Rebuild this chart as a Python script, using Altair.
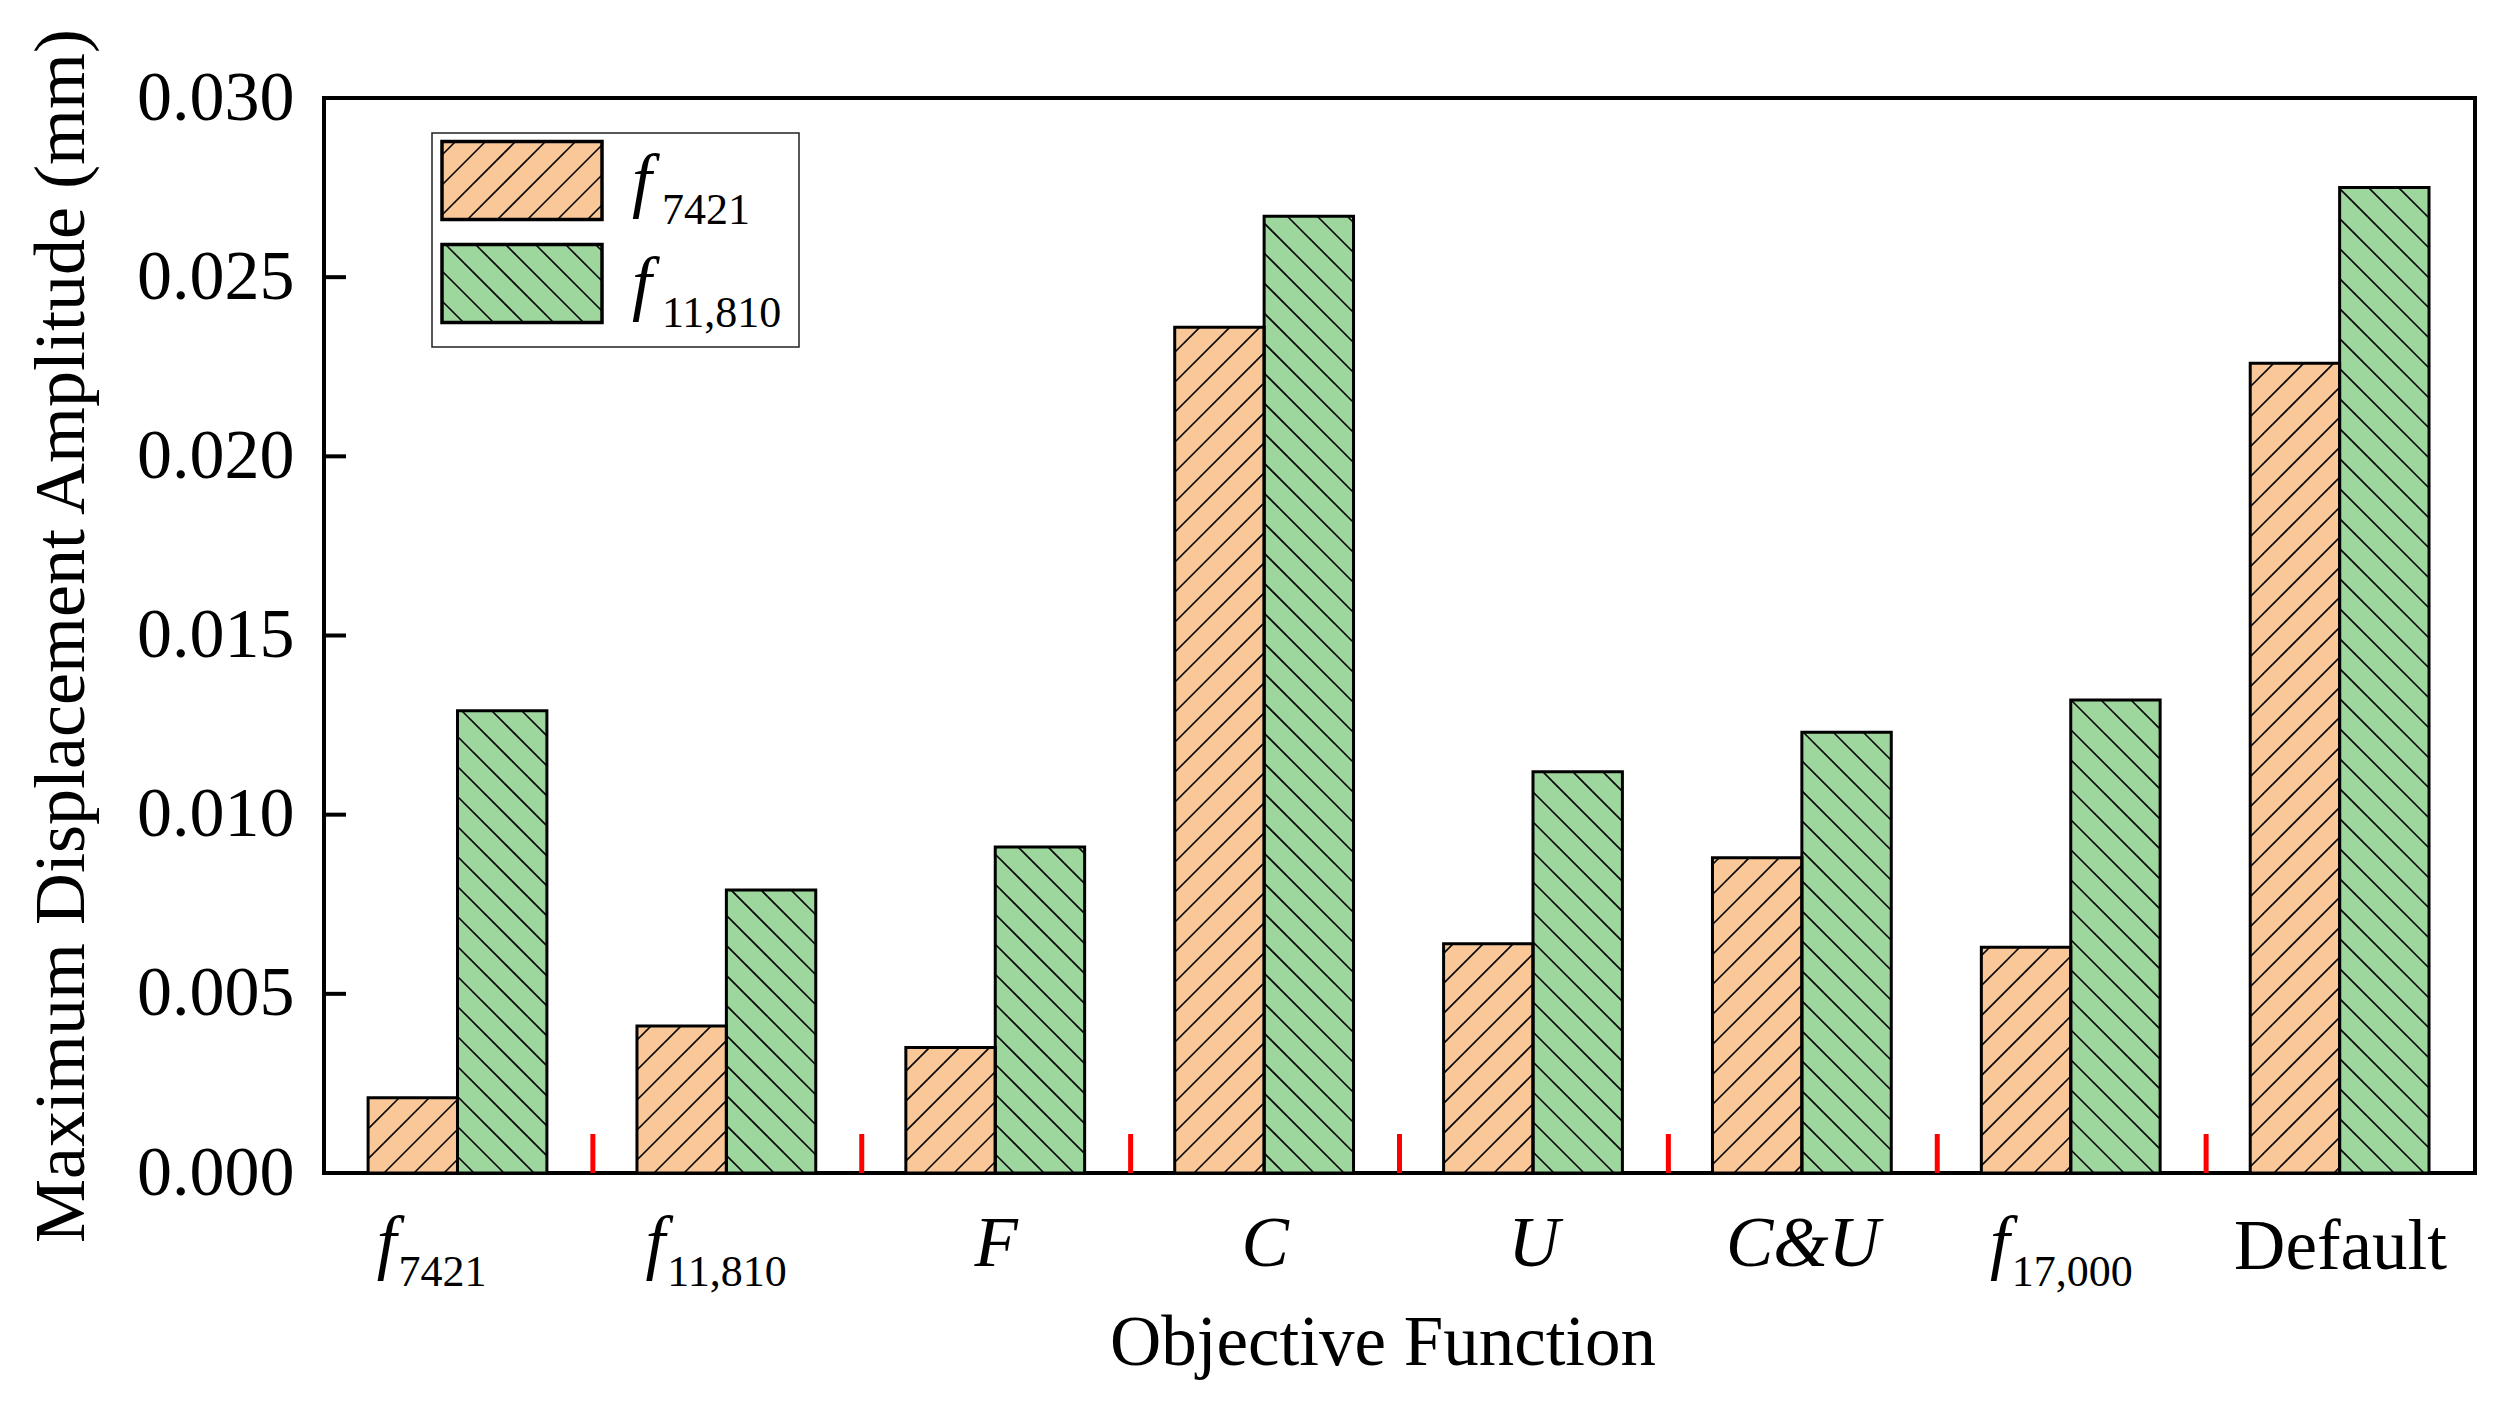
import math
import altair as alt
import pandas as pd

# ---------------- data ----------------
categories = ["f7421", "f11,810", "F", "C", "U", "C&U", "f17,000", "Default"]
label_main = ["f", "f", "F", "C", "U", "C&U", "f", "Default"]
label_sub = ["7421", "11,810", "", "", "", "", "17,000", ""]

series = ["f7421", "f11,810"]
series_main = ["f", "f"]
series_sub = ["7421", "11,810"]

vals_7421 = [0.0021, 0.0041, 0.0035, 0.0236, 0.0064, 0.0088, 0.0063, 0.0226]
vals_11810 = [0.0129, 0.0079, 0.0091, 0.0267, 0.0112, 0.0123, 0.0132, 0.0275]

y_ticks = [0.000, 0.005, 0.010, 0.015, 0.020, 0.025, 0.030]
colors = ["#FAC898", "#9ED79E"]

# ---------------- layout / style ----------------
W, H = 2151, 1075
NCAT = len(categories)
YMAX = y_ticks[-1]
PX = W / NCAT          # pixels per category unit
PY = H / YMAX          # pixels per value unit
GAP = 0.164            # left gap inside a category (fraction)
BW = 0.3325            # bar width (fraction of category)
SP = 30                # hatch spacing in px
FONT = "Liberation Serif"


def dx(px):            # pixel (from plot left) -> x data
    return px / PX


def dy(py):            # pixel (from plot top) -> y data
    return (H - py) / PY


xs = alt.Scale(domain=[0, NCAT], nice=False, zero=False)
ys = alt.Scale(domain=[0, YMAX], nice=False, zero=False)
cs = alt.Scale(domain=series, range=colors)


def hatch(x0, x1, y0, y1, s):
    """Segments of lines x - s*y = c (c multiple of SP) clipped to a rect (px)."""
    us = [x0 - s * y0, x0 - s * y1, x1 - s * y0, x1 - s * y1]
    kmin = math.floor(min(us) / SP)
    kmax = math.ceil(max(us) / SP)
    segs = []
    for k in range(kmin, kmax + 1):
        c = k * SP
        if s > 0:
            lo, hi = max(y0, x0 - c), min(y1, x1 - c)
        else:
            lo, hi = max(y0, c - x1), min(y1, c - x0)
        if hi - lo > 0.8:
            segs.append((c + s * lo, lo, c + s * hi, hi))
    return segs


# bars table + hatch segments (y-up pixel space)
rows, hrows = [], []
for s_i, vals in enumerate([vals_7421, vals_11810]):
    for i, v in enumerate(vals):
        x0 = i + GAP + s_i * BW
        x1 = x0 + BW
        rows.append({"cat": categories[i], "series": series[s_i],
                     "x0": x0, "x1": x1, "value": v, "base": 0.0})
        slope = 1 if s_i == 0 else -1
        for (ax, ay, bx, by) in hatch(x0 * PX, x1 * PX, 0.0, v * PY, slope):
            hrows.append({"hx": ax / PX, "hy": ay / PY, "hx2": bx / PX, "hy2": by / PY})

# legend (pixel layout relative to plot origin, converted to data space)
LX0, LX1 = 118, 278
LY0, LSTEP, LH = 43.5, 103, 78
leg_rows = []
for k in range(len(series)):
    top = LY0 + k * LSTEP
    leg_rows.append({"series": series[k], "main": series_main[k], "sub": series_sub[k],
                     "x0": dx(LX0), "x1": dx(LX1), "y0": dy(top), "y1": dy(top + LH),
                     "tx": dx(308), "sx": dx(338),
                     "ty": dy(top + 62), "sy": dy(top + 82)})
    slope = 1 if k == 0 else -1
    yu0, yu1 = H - (top + LH), H - top
    for (ax, ay, bx, by) in hatch(LX0, LX1, yu0, yu1, slope):
        hrows.append({"hx": ax / PX, "hy": ay / PY, "hx2": bx / PX, "hy2": by / PY})

bars_df = pd.DataFrame(rows)
hatch_df = pd.DataFrame(hrows)
leg_df = pd.DataFrame(leg_rows)
box_df = pd.DataFrame({"x0": [dx(108)], "x1": [dx(475)], "y0": [dy(35)], "y1": [dy(249)]})

labels_df = pd.DataFrame({"idx": list(range(NCAT)), "main": label_main, "sub": label_sub})
bounds_df = pd.DataFrame({"b": list(range(1, NCAT))})
yt_df = pd.DataFrame({"t": y_ticks[1:-1]})

# ---------------- axes ----------------
x_axis = alt.Axis(labels=False, ticks=False, domain=False, grid=False,
                  title="Objective Function", titleFont=FONT, titleFontSize=71,
                  titleFontWeight="normal", titleColor="black",
                  titleX=W / 2 - 17, titleY=191, titleBaseline="alphabetic",
                  titleAlign="center")
y_axis = alt.Axis(values=y_ticks, format=".3f", labelFont=FONT, labelFontSize=70,
                  labelColor="black", labelPadding=30, ticks=False, domain=False,
                  grid=False, labelFlush=False, labelOverlap=False,
                  title="Maximum Displacement Amplitude (mm)", titleFont=FONT,
                  titleFontSize=72, titleFontWeight="normal", titleColor="black",
                  titleAngle=270, titleX=-241, titleY=H / 2,
                  titleBaseline="alphabetic", titleAlign="center")


def X(f):
    return alt.X(f, scale=xs, axis=x_axis)


def Y(f):
    return alt.Y(f, scale=ys, axis=y_axis)


# ---------------- layers ----------------
bars = alt.Chart(bars_df).mark_rect(strokeWidth=0).encode(
    x=X("x0:Q"), x2="x1:Q", y=Y("value:Q"), y2="base:Q",
    color=alt.Color("series:N", scale=cs, legend=None),
)

outline = alt.Chart(bars_df).mark_rect(fillOpacity=0, stroke="black", strokeWidth=3).encode(
    x=X("x0:Q"), x2="x1:Q", y=Y("value:Q"), y2="base:Q",
)

red_ticks = alt.Chart(bounds_df).mark_rule(color="#FF0000", strokeWidth=5).encode(
    x=X("b:Q"), y=alt.value(H - 39), y2=alt.value(H),
)

y_tick_marks = alt.Chart(yt_df).mark_rule(color="black", strokeWidth=4).encode(
    y=Y("t:Q"), x=alt.value(0), x2=alt.value(22),
)

lab_base = alt.Chart(labels_df).transform_calculate(xc="datum.idx + 0.5")

lab_f = lab_base.transform_filter("datum.sub != ''").mark_text(
    font=FONT, fontSize=71, fontStyle="italic", align="right",
    baseline="alphabetic", dx=-62, color="black").encode(
    x=X("xc:Q"), y=alt.value(H + 93), text="main:N")

lab_sub = lab_base.transform_filter("datum.sub != ''").mark_text(
    font=FONT, fontSize=44, align="left", baseline="alphabetic",
    dx=-60, color="black").encode(
    x=X("xc:Q"), y=alt.value(H + 113), text="sub:N")

lab_it = lab_base.transform_filter("datum.sub == '' && datum.main != 'Default'").mark_text(
    font=FONT, fontSize=71, fontStyle="italic", align="center",
    baseline="alphabetic", color="black").encode(
    x=X("xc:Q"), y=alt.value(H + 93), text="main:N")

lab_up = lab_base.transform_filter("datum.main == 'Default'").mark_text(
    font=FONT, fontSize=71, align="center", baseline="alphabetic",
    color="black").encode(
    x=X("xc:Q"), y=alt.value(H + 96), text="main:N")

leg_box = alt.Chart(box_df).mark_rect(fill="white", stroke="#222222", strokeWidth=1.5).encode(
    x=X("x0:Q"), x2="x1:Q", y=Y("y0:Q"), y2="y1:Q",
)

leg_fill = alt.Chart(leg_df).mark_rect(strokeWidth=0).encode(
    x=X("x0:Q"), x2="x1:Q", y=Y("y0:Q"), y2="y1:Q",
    color=alt.Color("series:N", scale=cs, legend=None),
)

hatch_layer = alt.Chart(hatch_df).mark_rule(color="black", strokeWidth=1.6).encode(
    x=X("hx:Q"), x2="hx2:Q", y=Y("hy:Q"), y2="hy2:Q",
)

leg_outline = alt.Chart(leg_df).mark_rect(fillOpacity=0, stroke="black", strokeWidth=3.5).encode(
    x=X("x0:Q"), x2="x1:Q", y=Y("y0:Q"), y2="y1:Q",
)

leg_f = alt.Chart(leg_df).mark_text(font=FONT, fontSize=71, fontStyle="italic", align="left",
                                    baseline="alphabetic", color="black").encode(
    x=X("tx:Q"), y=Y("ty:Q"), text="main:N")

leg_s = alt.Chart(leg_df).mark_text(font=FONT, fontSize=44, align="left",
                                    baseline="alphabetic", color="black").encode(
    x=X("sx:Q"), y=Y("sy:Q"), text="sub:N")

chart = alt.layer(
    bars, leg_box, leg_fill, hatch_layer, outline, leg_outline,
    red_ticks, y_tick_marks,
    lab_f, lab_sub, lab_it, lab_up, leg_f, leg_s,
).properties(
    width=W, height=H,
    autosize=alt.AutoSizeParams(type="none"),
    padding={"left": 316, "top": 90, "right": 20, "bottom": 210},
    background="white",
).configure_view(stroke="black", strokeWidth=4)

chart.save("out.html", embed_options={"renderer": "svg", "actions": False})
